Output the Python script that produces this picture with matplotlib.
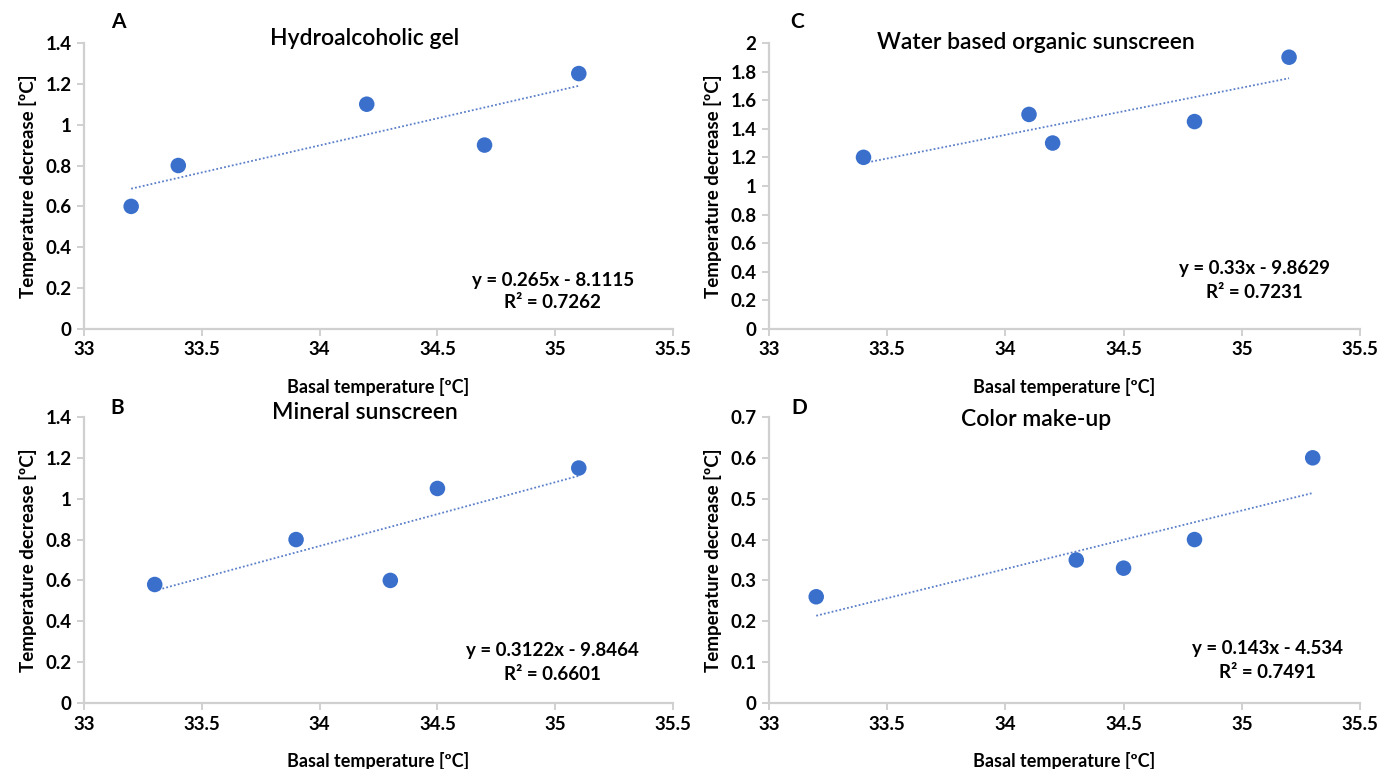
import numpy as np
import matplotlib
matplotlib.use("Agg")
import matplotlib.pyplot as plt

plt.rcParams['font.family'] = ['Lato', 'DejaVu Sans']

# data
hydro_x = [33.2, 33.4, 34.2, 34.7, 35.1]
hydro_y = [0.6, 0.8, 1.1, 0.9, 1.25]
hydro_fit = [0.265, -8.1115]

water_x = [33.4, 34.1, 34.2, 34.8, 35.2]
water_y = [1.2, 1.5, 1.3, 1.45, 1.9]
water_fit = [0.33, -9.8629]

mineral_x = [33.3, 33.9, 34.3, 34.5, 35.1]
mineral_y = [0.58, 0.8, 0.6, 1.05, 1.15]
mineral_fit = [0.3122, -9.8464]

color_x = [33.2, 34.3, 34.5, 34.8, 35.3]
color_y = [0.26, 0.35, 0.33, 0.4, 0.6]
color_fit = [0.143, -4.534]

x_ticks = [33, 33.5, 34, 34.5, 35, 35.5]

panels = [
    # letter, title, x, y, fit, eq, r2, ymax, ystep, axes rect, title pos, letter pos, eq pos
    ("A", "Hydroalcoholic gel", hydro_x, hydro_y, hydro_fit,
     "y = 0.265x - 8.1115", "R² = 0.7262", 1.4, 0.2,
     [0.0609, 0.5722, 0.4268, 0.372], (0.477, 1.017), (0.058, 1.073), (0.796, 0.171, 0.091)),
    ("C", "Water based organic sunscreen", water_x, water_y, water_fit,
     "y = 0.33x - 9.8629", "R² = 0.7231", 2.0, 0.2,
     [0.5572, 0.5722, 0.4283, 0.372], (0.452, 1.003), (0.047, 1.073), (0.821, 0.213, 0.129)),
    ("B", "Mineral sunscreen", mineral_x, mineral_y, mineral_fit,
     "y = 0.3122x - 9.8464", "R² = 0.6601", 1.4, 0.2,
     [0.0609, 0.0858, 0.4268, 0.372], (0.477, 1.017), (0.056, 1.031), (0.796, 0.182, 0.098)),
    ("D", "Color make-up", color_x, color_y, color_fit,
     "y = 0.143x - 4.534", "R² = 0.7491", 0.7, 0.1,
     [0.5572, 0.0858, 0.4283, 0.372], (0.452, 0.99), (0.052, 1.031), (0.844, 0.192, 0.108)),
]

blue = "#3A70CC"
grey = "#D0D0D0"

fig = plt.figure(figsize=(13.8, 7.69), dpi=100)

for letter, title, xs, ys, fit, eq, r2, ymax, ystep, rect, tpos, lpos, epos in panels:
    ax = fig.add_axes(rect)
    ax.scatter(xs, ys, s=125, color=blue, zorder=3, edgecolors='none')
    fx = np.array([min(xs), max(xs)])
    ax.plot(fx, np.polyval(fit, fx), linestyle=(0, (1, 1.2)), color="#5B7FC8", lw=1.3, zorder=2)

    ax.set_xlim(33, 35.5)
    ax.set_ylim(0, ymax)
    ax.set_xticks(x_ticks)
    ax.set_xticklabels(["33", "33.5", "34", "34.5", "35", "35.5"])
    yt = np.round(np.arange(0, ymax + ystep / 2, ystep), 2)
    ax.set_yticks(yt)
    ax.set_yticklabels([("%g" % v) for v in yt])

    for s in ["top", "right"]:
        ax.spines[s].set_visible(False)
    for s in ["left", "bottom"]:
        ax.spines[s].set_color(grey)
        ax.spines[s].set_linewidth(1.6)
    ax.tick_params(axis='both', direction='out', length=5, width=1.4, color=grey,
                   labelsize=13.5, pad=4)
    for lab in ax.get_xticklabels() + ax.get_yticklabels():
        lab.set_fontweight('bold')

    ax.set_xlabel("Basal temperature [ºC]", fontsize=13, fontweight='bold', labelpad=14)
    ax.set_ylabel("Temperature decrease [ºC]", fontsize=13.5, fontweight='bold', labelpad=6)

    ax.text(tpos[0], tpos[1], title, transform=ax.transAxes, ha='center', va='center',
            fontsize=16.5, fontweight='semibold')
    ax.text(lpos[0], lpos[1], letter, transform=ax.transAxes, ha='center', va='center',
            fontsize=15, fontweight='bold')
    ax.text(epos[0], epos[1], eq, transform=ax.transAxes, ha='center', va='center',
            fontsize=13.5, fontweight='bold')
    ax.text(epos[0], epos[2], r2, transform=ax.transAxes, ha='center', va='center',
            fontsize=13.5, fontweight='bold')

fig.savefig("out.png", dpi=100)
